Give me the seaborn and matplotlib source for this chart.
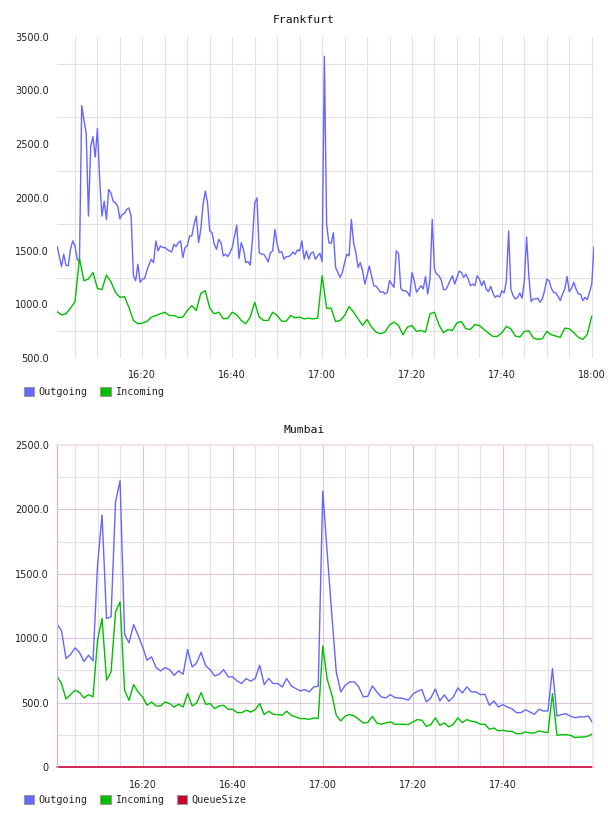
import matplotlib
matplotlib.use("Agg")
from matplotlib import pyplot as plt
import matplotlib.dates as mdates
import matplotlib.patches as mpatches
from matplotlib.ticker import MultipleLocator, FixedLocator, FuncFormatter
import numpy as np
import pandas as pd
import seaborn as sns

# Frankfurt, outgoing sampled every 30 s, incoming every minute, from 16:01
fra_out = [1547, 1454, 1355, 1470, 1368, 1361, 1516, 1594, 1547, 1423,
           1400, 2860, 2724, 2600, 1826, 2476, 2569, 2377, 2646, 2166,
           1826, 1965, 1795, 2074, 2043, 1965, 1950, 1919, 1801, 1841,
           1851, 1888, 1903, 1826, 1269, 1222, 1377, 1207, 1238, 1244,
           1315, 1377, 1423, 1392, 1594, 1501, 1547, 1532, 1532, 1516,
           1501, 1491, 1563, 1541, 1578, 1594, 1439, 1532, 1547, 1640,
           1640, 1748, 1826, 1578, 1702, 1934, 2060, 1950, 1687, 1671,
           1563, 1516, 1609, 1578, 1454, 1470, 1448, 1485, 1532, 1640,
           1740, 1430, 1578, 1516, 1392, 1402, 1368, 1609, 1950, 1996,
           1485, 1470, 1470, 1439, 1399, 1485, 1501, 1702, 1563, 1485,
           1494, 1423, 1448, 1448, 1460, 1491, 1470, 1510, 1501, 1594,
           1423, 1501, 1423, 1479, 1491, 1423, 1454, 1479, 1400, 3320,
           1750, 1578, 1569, 1671, 1346, 1299, 1253, 1299, 1392, 1470,
           1454, 1795, 1578, 1485, 1346, 1392, 1315, 1191, 1269, 1361,
           1269, 1176, 1170, 1145, 1114, 1120, 1098, 1114, 1222, 1191,
           1160, 1500, 1479, 1151, 1129, 1129, 1114, 1077, 1299, 1222,
           1114, 1145, 1176, 1145, 1262, 1098, 1238, 1795, 1330, 1284,
           1269, 1231, 1139, 1139, 1176, 1225, 1269, 1191, 1253, 1312,
           1299, 1253, 1284, 1238, 1176, 1191, 1176, 1269, 1238, 1176,
           1222, 1145, 1120, 1170, 1108, 1067, 1083, 1070, 1129, 1108,
           1222, 1687, 1145, 1083, 1052, 1067, 1108, 1058, 1222, 1630,
           1269, 1027, 1052, 1052, 1058, 1021, 1052, 1129, 1238, 1222,
           1151, 1114, 1108, 1077, 1036, 1098, 1145, 1262, 1120, 1151,
           1207, 1145, 1098, 1098, 1036, 1067, 1046, 1114, 1191, 1541]
fra_in = [934, 903, 913, 965, 1027, 1430, 1222, 1238, 1300, 1151,
          1139, 1275, 1213, 1114, 1067, 1074, 974, 851, 820, 826,
          841, 882, 897, 913, 928, 897, 897, 879, 882, 943,
          990, 943, 1105, 1129, 965, 913, 928, 866, 872, 928,
          903, 851, 820, 882, 1021, 882, 851, 851, 928, 897,
          844, 844, 897, 875, 882, 866, 872, 866, 872, 1269,
          965, 965, 841, 851, 897, 981, 928, 866, 804, 860,
          789, 742, 727, 742, 810, 835, 804, 717, 789, 804,
          748, 758, 742, 913, 928, 810, 736, 767, 758, 829,
          841, 773, 767, 813, 804, 767, 733, 702, 702, 736,
          795, 773, 705, 696, 748, 755, 687, 674, 680, 748,
          717, 705, 693, 779, 773, 736, 693, 674, 720, 890]

# Mumbai, one sample per minute from 16:01
mum_out = [1109, 1057, 842, 873, 925, 889, 819, 868, 824, 1567,
           1956, 1153, 1166, 2060, 2223, 1029, 964, 1106, 1023, 933,
           829, 855, 772, 746, 772, 756, 712, 746, 720, 912,
           777, 808, 891, 785, 756, 707, 720, 756, 700, 700,
           668, 648, 687, 666, 687, 790, 640, 687, 648, 648,
           622, 687, 630, 609, 591, 601, 583, 622, 627, 2143,
           1658, 1192, 738, 583, 635, 661, 661, 622, 544, 549,
           630, 583, 544, 536, 562, 539, 536, 531, 518, 565,
           588, 601, 505, 536, 606, 513, 560, 510, 544, 614,
           575, 622, 583, 583, 562, 565, 479, 513, 466, 484,
           466, 453, 422, 422, 445, 427, 409, 448, 435, 435,
           764, 396, 407, 414, 394, 383, 389, 389, 396, 337]
mum_in = [705, 648, 528, 562, 596, 578, 536, 562, 544, 984,
          1153, 674, 738, 1205, 1282, 596, 518, 640, 583, 544,
          479, 505, 474, 474, 505, 492, 466, 487, 466, 570,
          474, 497, 578, 487, 492, 453, 474, 479, 448, 448,
          422, 422, 440, 427, 445, 492, 407, 433, 409, 407,
          402, 433, 402, 389, 376, 376, 370, 381, 376, 940,
          679, 565, 402, 358, 396, 407, 396, 370, 342, 345,
          394, 342, 332, 342, 350, 332, 332, 332, 329, 350,
          368, 363, 316, 329, 381, 324, 342, 311, 332, 381,
          345, 368, 355, 350, 332, 332, 293, 303, 280, 285,
          277, 277, 259, 259, 272, 264, 264, 280, 272, 267,
          570, 246, 251, 251, 246, 228, 233, 233, 241, 259]
mum_queue = [0] * len(mum_out)

fra_ticks = ["16:20", "16:40", "17:00", "17:20", "17:40", "18:00"]
mum_ticks = ["16:20", "16:40", "17:00", "17:20", "17:40"]

BLUE = "#6666ff"
GREEN = "#00c000"
RED = "#cc0033"
GRAY = "#e2e2e2"
PURPLE = "#dcc6dc"
PINK = "#f0e4f0"

sns.set_style("white")
plt.rcParams["font.family"] = ["DejaVu Sans"]
plt.rcParams["axes.unicode_minus"] = False

day = "2000-01-01 "
t_fra_out = pd.date_range(day + "16:01", periods=len(fra_out), freq="30s")
t_fra_in = pd.date_range(day + "16:01", periods=len(fra_in), freq="1min")
t_mum = pd.date_range(day + "16:01", periods=len(mum_out), freq="1min")

fig = plt.figure(figsize=(6.08, 8.16), dpi=100)
ax1 = fig.add_axes([57 / 608, 1 - 358 / 816, 537 / 608, 321 / 816])
ax2 = fig.add_axes([57 / 608, 1 - 767 / 816, 536 / 608, 322 / 816])

sns.lineplot(x=t_fra_out, y=fra_out, ax=ax1, color=BLUE, lw=1.0)
sns.lineplot(x=t_fra_in, y=fra_in, ax=ax1, color=GREEN, lw=1.0)

sns.lineplot(x=t_mum, y=mum_out, ax=ax2, color=BLUE, lw=1.0)
sns.lineplot(x=t_mum, y=mum_in, ax=ax2, color=GREEN, lw=1.0)
sns.lineplot(x=t_mum, y=mum_queue, ax=ax2, color=RED, lw=1.2)
ax2.lines[-1].set_clip_on(False)


def yfmt(v, pos):
    return "0" if v == 0 else "%.1f" % v


for ax, times, ticks in [(ax1, t_fra_out, fra_ticks), (ax2, t_mum, mum_ticks)]:
    ax.set_xlabel("")
    ax.set_ylabel("")
    ax.set_xlim(times[0], times[-1])
    ax.xaxis.set_major_locator(FixedLocator(
        [mdates.date2num(pd.Timestamp(day + t)) for t in ticks]))
    ax.xaxis.set_major_formatter(mdates.DateFormatter("%H:%M"))
    ax.xaxis.set_minor_locator(mdates.MinuteLocator(byminute=range(0, 60, 5)))
    ax.yaxis.set_major_locator(MultipleLocator(500))
    ax.yaxis.set_major_formatter(FuncFormatter(yfmt))
    ax.tick_params(which="both", length=0, labelsize=7, labelcolor="#222222")
    ax.tick_params(axis="y", pad=6)
    ax.tick_params(axis="x", pad=9)
    ax.set_axisbelow(True)

# Frankfurt: light gray grid, no frame
ax1.set_ylim(500, 3500)
ax1.yaxis.set_minor_locator(MultipleLocator(500, offset=250))
ax1.grid(False)
ax1.xaxis.grid(True, which="both", color=GRAY, lw=0.8)
ax1.yaxis.grid(True, which="minor", color=GRAY, lw=0.8)
for s in ax1.spines.values():
    s.set_visible(False)

# Mumbai: purple major grid, gray minor grid
ax2.set_ylim(0, 2500)
ax2.yaxis.set_minor_locator(MultipleLocator(250))
ax2.grid(False)
ax2.xaxis.grid(True, which="major", color=PURPLE, lw=0.8)
ax2.xaxis.grid(True, which="minor", color=GRAY, lw=0.8)
ax2.yaxis.grid(True, which="major", color=PURPLE, lw=0.8)
ax2.yaxis.grid(True, which="minor", color=GRAY, lw=0.8)
ax2.spines["bottom"].set_visible(False)
ax2.spines["left"].set_color("#d0b4d0")
ax2.spines["left"].set_linewidth(0.9)
ax2.spines["top"].set_color(PINK)
ax2.spines["top"].set_linewidth(1.5)
ax2.spines["right"].set_color(PINK)
ax2.spines["right"].set_linewidth(1.2)

fig.text(304 / 608, 1 - 20 / 816, "Frankfurt", ha="center", va="center",
         family="DejaVu Sans Mono", fontsize=8.2, color="#111111")
fig.text(304 / 608, 1 - 430 / 816, "Mumbai", ha="center", va="center",
         family="DejaVu Sans Mono", fontsize=8.2, color="#111111")


def legend(labels, colors, y):
    handles = [mpatches.Patch(facecolor=c, edgecolor="#999999", lw=0.8, label=l)
               for l, c in zip(labels, colors)]
    fig.legend(handles=handles, loc="center left", bbox_to_anchor=(24 / 608, 1 - y / 816),
               ncol=len(handles), frameon=False, borderpad=0, borderaxespad=0,
               handlelength=1.0, handleheight=1.0, handletextpad=0.4,
               columnspacing=1.3, prop={"family": "DejaVu Sans Mono", "size": 7.3})


legend(["Outgoing", "Incoming"], [BLUE, GREEN], 392)
legend(["Outgoing", "Incoming", "QueueSize"], [BLUE, GREEN, RED], 800)

fig.savefig("out.png", dpi=100)
